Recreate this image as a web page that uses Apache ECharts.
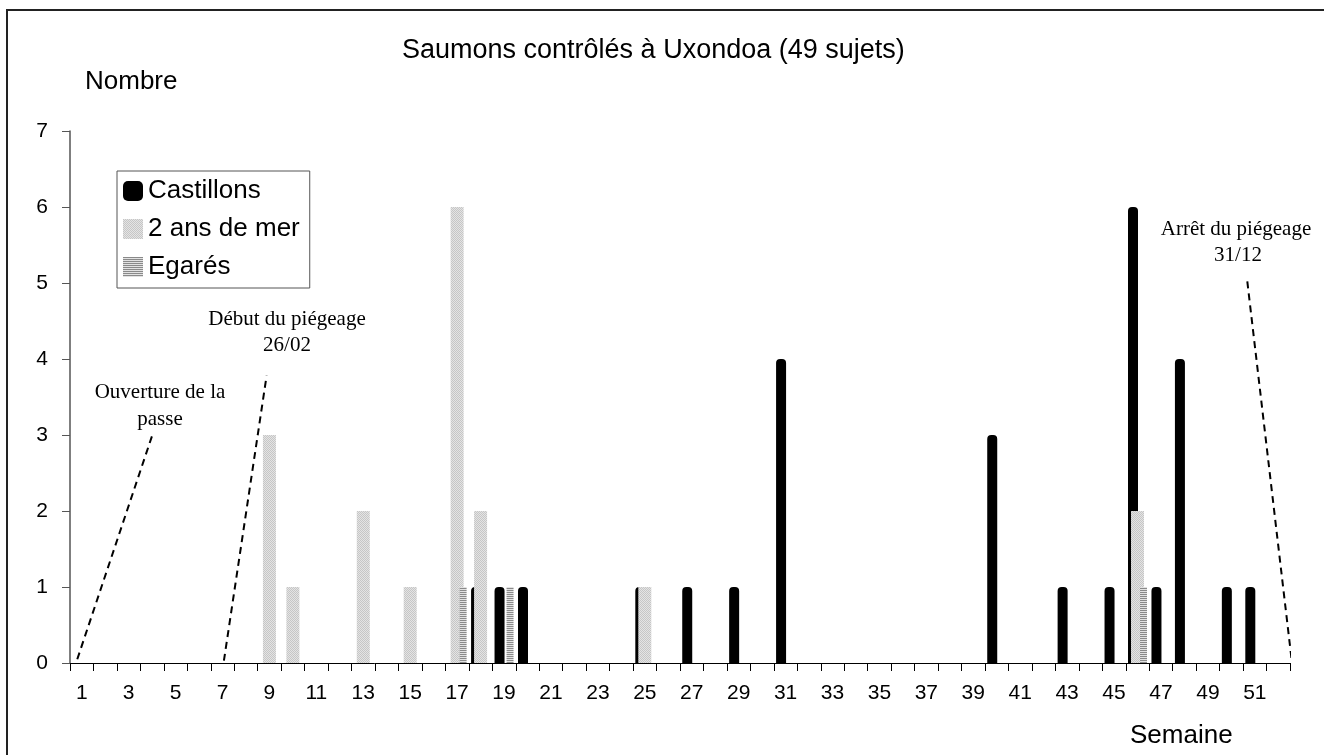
<!DOCTYPE html>
<html>
<head>
<meta charset="utf-8">
<script src="https://cdn.jsdelivr.net/npm/echarts@6/dist/echarts.min.js"></script>
<style>
  html, body { margin: 0; padding: 0; background: #fff; }
  #chart { width: 1324px; height: 755px; }
</style>
</head>
<body>
<div id="chart"></div>
<script>
// semaines 1..52
const weeks = [];
for (let i = 1; i <= 52; i++) weeks.push(String(i));

// effectifs par semaine (0 = rien)
const castillons = {18: 1, 19: 1, 20: 1, 25: 1, 27: 1, 29: 1, 31: 4, 40: 3, 43: 1, 45: 1, 46: 6, 47: 1, 48: 4, 50: 1, 51: 1};
const deuxAnsMer = {9: 3, 10: 1, 13: 2, 15: 1, 17: 6, 18: 2, 25: 1, 46: 2};
const egares = {17: 1, 19: 1, 46: 1};

// lignes pointillées des annotations : [semaine, nombre]
const lineOuverture = [[0.81, 0.05], [4.01, 3.0]];
const lineDebut = [[7.06, 0.03], [8.88, 3.78]];
const lineArret = [[50.68, 5.02], [52.57, 0.04]];

function toSeries(obj) {
  return weeks.map((w) => obj[w] || 0);
}

function pattern(w, h, draw) {
  const c = document.createElement("canvas");
  c.width = w;
  c.height = h;
  draw(c.getContext("2d"));
  return { image: c, repeat: "repeat" };
}

// gris pointillé (2 ans de mer)
const dotFill = pattern(2, 2, (ctx) => {
  ctx.fillStyle = "#e4e4e4";
  ctx.fillRect(0, 0, 2, 2);
  ctx.fillStyle = "#c6c6c6";
  ctx.fillRect(0, 0, 1, 1);
  ctx.fillRect(1, 1, 1, 1);
});
// hachures horizontales (Egarés)
const stripeFill = pattern(2, 2, (ctx) => {
  ctx.fillStyle = "#e2e2e2";
  ctx.fillRect(0, 0, 2, 2);
  ctx.fillStyle = "#8a8a8a";
  ctx.fillRect(0, 0, 2, 1);
});

const sans = "Liberation Sans, Arial, sans-serif";
const serif = "Liberation Serif, Times New Roman, serif";

const chart = echarts.init(document.getElementById("chart"));

function dashed(data) {
  return {
    type: "line",
    xAxisIndex: 2,
    data: data,
    symbol: "none",
    silent: true,
    clip: false,
    lineStyle: { color: "#000", width: 2, type: [7, 5] },
    z: 5,
  };
}

function note(text, x, y) {
  return {
    type: "text",
    x: x,
    y: y,
    style: {
      text: text,
      font: "21px " + serif,
      fill: "#000",
      align: "center",
      verticalAlign: "middle",
    },
  };
}

const option = {
  animation: false,
  title: {
    text: "Saumons contrôlés à Uxondoa (49 sujets)",
    left: 402,
    top: 37,
    padding: 0,
    textStyle: { fontFamily: sans, fontSize: 27, fontWeight: "normal", color: "#000" },
  },
  legend: {
    orient: "vertical",
    left: 117,
    top: 171,
    data: [
      { name: "Castillons", icon: "roundRect" },
      { name: "2 ans de mer", icon: "rect" },
      { name: "Egarés", icon: "rect" },
    ],
    itemWidth: 20,
    itemHeight: 20,
    itemGap: 12,
    padding: [7, 10, 8, 6],
    borderColor: "#555",
    borderWidth: 1,
    backgroundColor: "#fff",
    textStyle: { fontFamily: sans, fontSize: 26, color: "#000" },
  },
  grid: { left: 70, right: 34, top: 131, bottom: 92 },
  xAxis: [
    {
      type: "category",
      data: weeks,
      axisLine: { lineStyle: { color: "#000", width: 1 } },
      axisTick: { show: true, interval: 0, length: 8, lineStyle: { color: "#000" } },
      axisLabel: { interval: 1, margin: 20, fontFamily: sans, fontSize: 21, color: "#000" },
    },
    { type: "category", data: weeks, show: false },
    { type: "value", min: 0.5, max: 52.5, show: false },
  ],
  yAxis: {
    type: "value",
    min: 0,
    max: 7,
    interval: 1,
    splitLine: { show: false },
    axisLine: { show: true, lineStyle: { color: "#555", width: 1.5 } },
    axisTick: { show: true, length: 8, lineStyle: { color: "#555" } },
    axisLabel: { margin: 22, fontFamily: sans, fontSize: 21, color: "#000" },
  },
  series: [
    {
      name: "Castillons",
      type: "bar",
      xAxisIndex: 0,
      data: toSeries(castillons),
      barWidth: 10,
      barGap: "20%",
      itemStyle: { color: "#000", borderRadius: [4, 4, 0, 0] },
    },
    {
      name: "2 ans de mer",
      type: "bar",
      xAxisIndex: 1,
      data: toSeries(deuxAnsMer),
      barWidth: 13,
      itemStyle: { color: dotFill },
    },
    {
      name: "Egarés",
      type: "bar",
      xAxisIndex: 0,
      data: toSeries(egares),
      barWidth: 7,
      barGap: "20%",
      itemStyle: { color: stripeFill },
    },
    dashed(lineOuverture),
    dashed(lineDebut),
    dashed(lineArret),
  ],
  graphic: [
    {
      type: "rect",
      shape: { x: 7, y: 10, width: 1340, height: 780 },
      style: { fill: null, stroke: "#222", lineWidth: 2 },
      silent: true,
    },
    {
      type: "text",
      x: 85,
      y: 82,
      style: { text: "Nombre", font: "26px " + sans, fill: "#000", verticalAlign: "middle" },
    },
    {
      type: "text",
      x: 1130,
      y: 736,
      style: { text: "Semaine", font: "26px " + sans, fill: "#000", verticalAlign: "middle" },
    },
    note("Ouverture de la", 160, 392),
    note("passe", 160, 419),
    note("Début du piégeage", 287, 319),
    note("26/02", 287, 345),
    note("Arrêt du piégeage", 1236, 229),
    note("31/12", 1238, 255),
  ],
};

chart.setOption(option);
</script>
</body>
</html>
